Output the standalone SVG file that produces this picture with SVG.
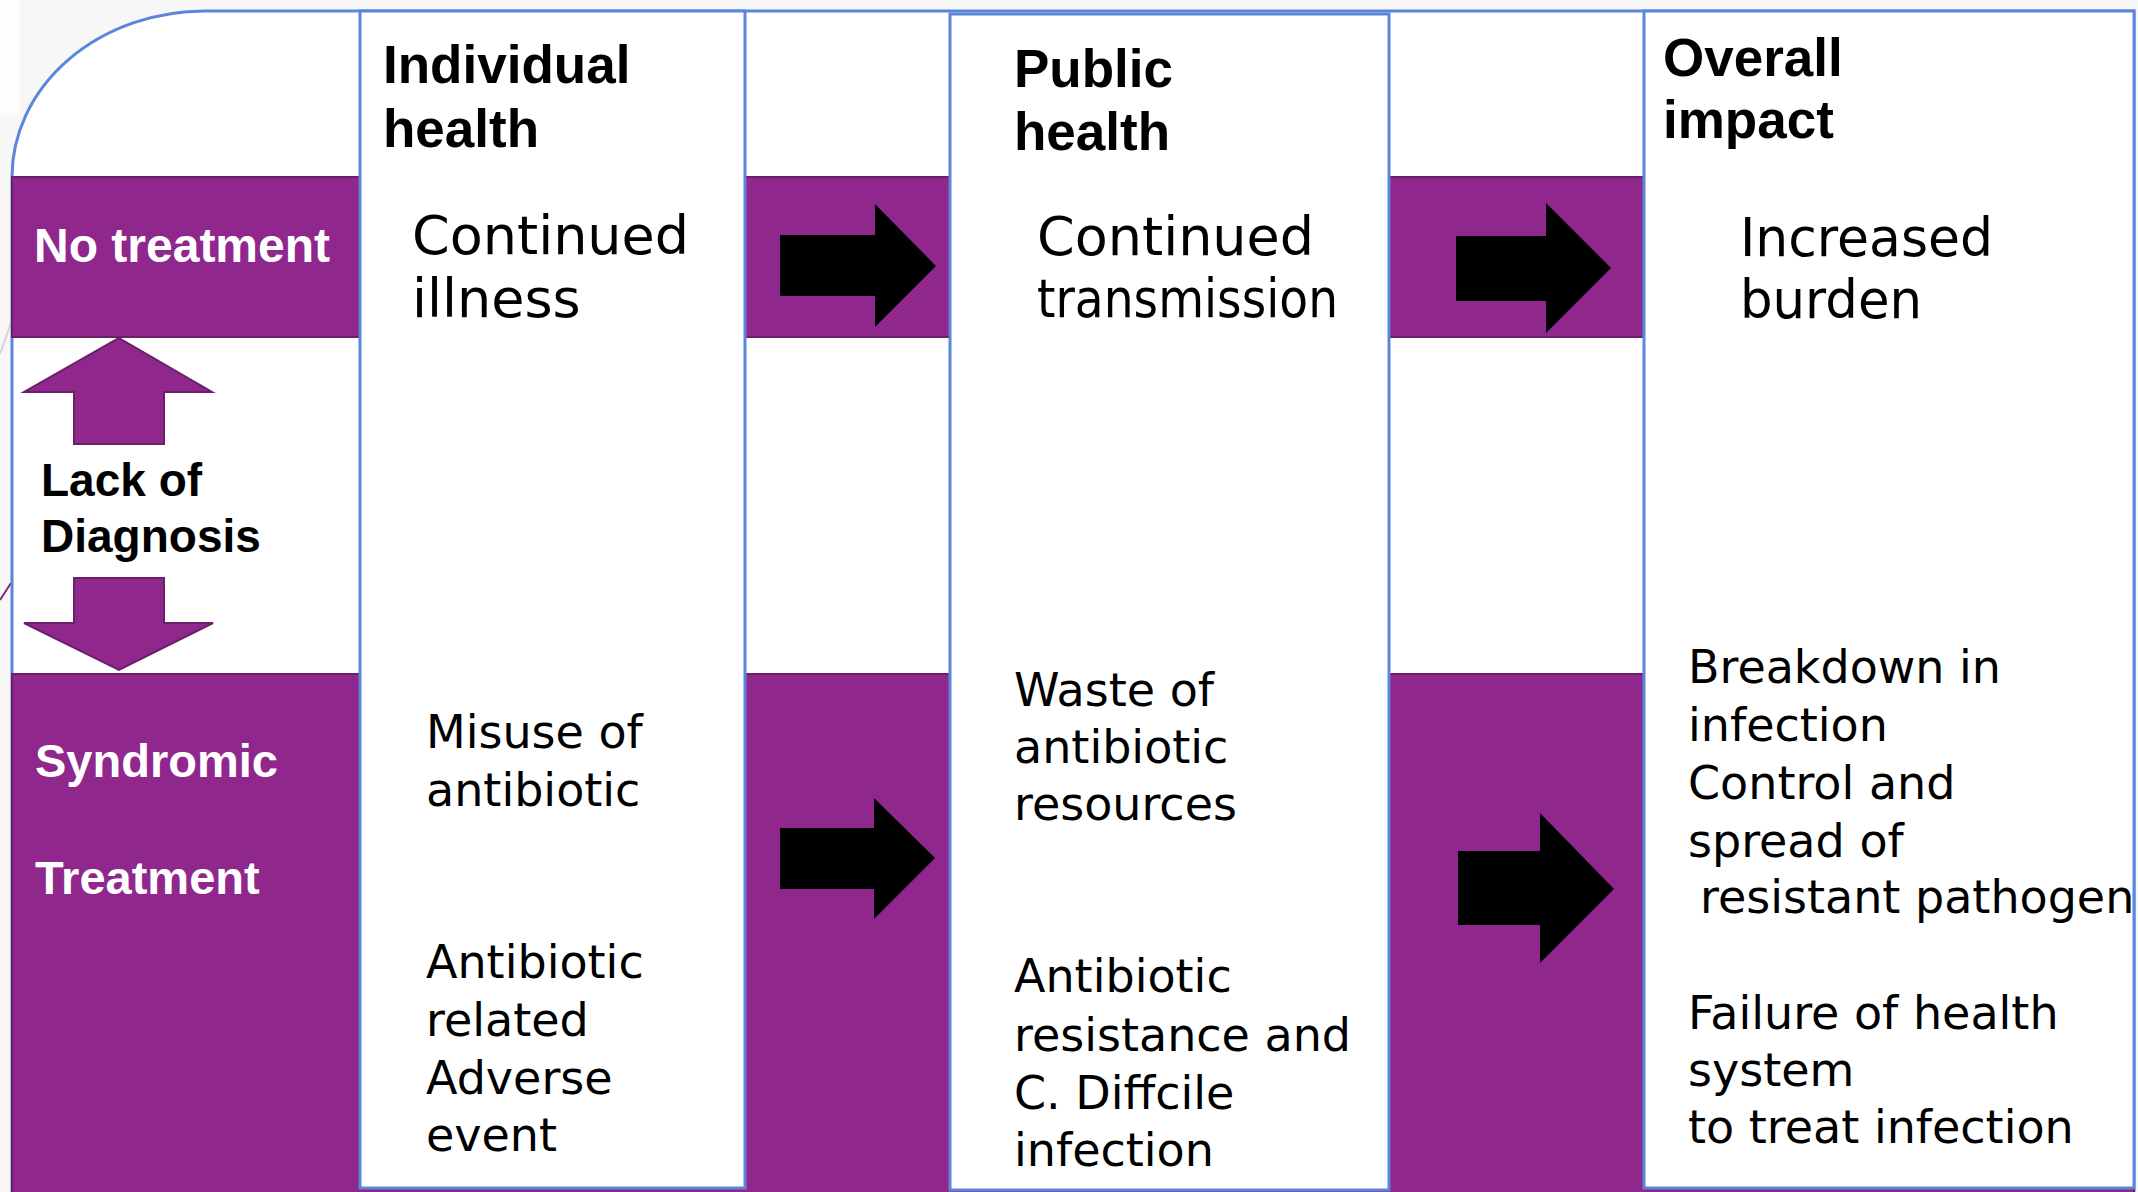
<svg xmlns="http://www.w3.org/2000/svg" width="2138" height="1192" viewBox="0 0 2138 1192">
<style>
.band{fill:#90278D;stroke:#6B1F68;stroke-width:2}
.box{fill:#FFFFFF;stroke:#5A86DB;stroke-width:3}
.blk{fill:#000000}
.parr{fill:#90278D;stroke:#6B1F68;stroke-width:2}
.hd{font-family:"Liberation Sans",Arial,sans-serif;font-weight:bold;font-size:53px;fill:#000}
.lbl{font-family:"Liberation Sans",Arial,sans-serif;font-weight:bold;font-size:47px;fill:#FFFFFF}
.lack{font-family:"Liberation Sans",Arial,sans-serif;font-weight:bold;font-size:46px;fill:#000}
.big{font-family:"DejaVu Sans",sans-serif;font-size:54px;fill:#000}
.sm{font-family:"DejaVu Sans",sans-serif;font-size:46px;fill:#000}
</style>
<rect x="0" y="0" width="2138" height="1192" fill="#F7F7F7"/>
<rect x="0" y="0" width="20" height="115" fill="#FDFDFD"/>
<line x1="12" y1="320" x2="0" y2="354" stroke="#D9D2D9" stroke-width="2"/>
<line x1="11" y1="583" x2="0" y2="600" stroke="#7A2A78" stroke-width="2"/>
<g id="frame">
<path d="M12,1192 L12,177 A193,166 0 0 1 205,11 L2134,11 L2134,1192" fill="#FFFFFF" stroke="#5A86DB" stroke-width="3"/>
</g>
<g id="row-no-treatment-band"><rect class="band" x="12" y="177" width="2122" height="160"/></g>
<g id="row-syndromic-band"><rect class="band" x="12" y="674" width="2122" height="530"/></g>
<g id="col-individual"><rect class="box" x="360" y="11" width="385" height="1177"/>
<text class="hd" x="383" y="83">Individual</text>
<text class="hd" x="383" y="147">health</text>
</g>
<g id="col-public"><rect class="box" x="950" y="14" width="439" height="1176"/>
<text class="hd" x="1014" y="87">Public</text>
<text class="hd" x="1014" y="150">health</text>
</g>
<g id="col-overall"><rect class="box" x="1644" y="11" width="490" height="1177"/>
<text class="hd" x="1663" y="76">Overall</text>
<text class="hd" x="1663" y="138">impact</text>
</g>
<g id="label-no-treatment"><text class="lbl" x="34" y="262" style="font-size:48px">No treatment</text></g>
<g id="label-syndromic"><text class="lbl" x="35" y="777">Syndromic</text><text class="lbl" x="35" y="894">Treatment</text></g>
<g id="lack-of-diagnosis">
<polygon class="parr" points="119,338 212,392 164,392 164,444 74,444 74,392 24,392"/>
<text class="lack" x="41" y="496">Lack of</text>
<text class="lack" x="41" y="552">Diagnosis</text>
<polygon class="parr" points="74,578 164,578 164,623 213,623 119,670 24,623 74,623"/>
</g>
<g id="ind-continued-illness"><text class="big" x="412" y="254">Continued</text><text class="big" x="412" y="317">illness</text></g>
<g id="pub-continued-transmission"><text class="big" x="1037" y="255">Continued</text><text class="big" x="1037" y="317" textLength="301" lengthAdjust="spacingAndGlyphs">transmission</text></g>
<g id="ovr-increased-burden"><text class="big" x="1740" y="256" textLength="253" lengthAdjust="spacingAndGlyphs">Increased</text><text class="big" x="1740" y="318" textLength="182" lengthAdjust="spacingAndGlyphs">burden</text></g>
<g id="ind-misuse"><text class="sm" x="426" y="748">Misuse of</text><text class="sm" x="426" y="806">antibiotic</text></g>
<g id="ind-adverse"><text class="sm" x="426" y="978">Antibiotic</text><text class="sm" x="426" y="1036">related</text><text class="sm" x="426" y="1094">Adverse</text><text class="sm" x="426" y="1151">event</text></g>
<g id="pub-waste"><text class="sm" x="1014" y="706">Waste of</text><text class="sm" x="1014" y="763">antibiotic</text><text class="sm" x="1014" y="820">resources</text></g>
<g id="pub-resistance"><text class="sm" x="1014" y="992">Antibiotic</text><text class="sm" x="1014" y="1051">resistance and</text><text class="sm" x="1014" y="1109">C. Diffcile</text><text class="sm" x="1014" y="1166">infection</text></g>
<g id="ovr-breakdown"><text class="sm" x="1688" y="683" textLength="313" lengthAdjust="spacingAndGlyphs">Breakdown in</text><text class="sm" x="1688" y="741">infection</text><text class="sm" x="1688" y="799">Control and</text><text class="sm" x="1688" y="857">spread of</text><text class="sm" x="1700" y="913">resistant pathogen</text></g>
<g id="ovr-failure"><text class="sm" x="1688" y="1029">Failure of health</text><text class="sm" x="1688" y="1086">system</text><text class="sm" x="1688" y="1143">to treat infection</text></g>
<g id="connectors">
<polygon class="blk" points="780,235 875,235 875,204 936,266 875,327 875,296 780,296"/>
<polygon class="blk" points="1456,236 1546,236 1546,203 1611,268 1546,333 1546,301 1456,301"/>
<polygon class="blk" points="780,828 874,828 874,798 935,858 874,919 874,889 780,889"/>
<polygon class="blk" points="1458,851 1540,851 1540,813 1614,889 1540,963 1540,925 1458,925"/>
</g>
</svg>
